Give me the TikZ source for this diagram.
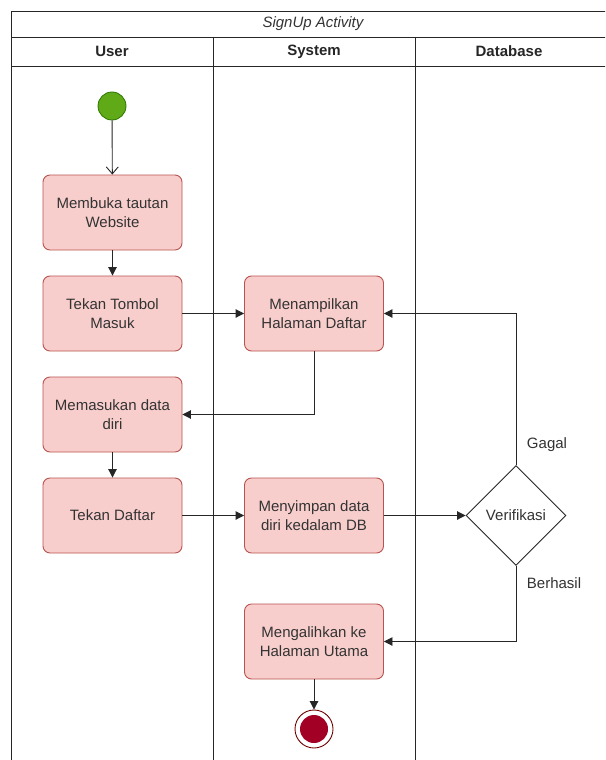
\documentclass[tikz,border=0pt]{standalone}
\usepackage{fontspec}
\setmainfont{Liberation Sans}
\usetikzlibrary{shapes.geometric,arrows.meta}
\definecolor{actfill}{HTML}{F8CECC}
\definecolor{actdraw}{HTML}{B85450}
\definecolor{txt}{HTML}{333333}
\definecolor{startfill}{HTML}{60A917}
\definecolor{startdraw}{HTML}{2D7600}
\definecolor{endfill}{HTML}{A20025}
\definecolor{enddraw}{HTML}{6F0000}
\tikzset{
  basefont/.style={font=\fontsize{15}{19}\selectfont},
  act/.style={rectangle, rounded corners=7pt, draw=actdraw, fill=actfill, line width=0.9pt,
    minimum width=139pt, minimum height=75pt, align=center, text=txt, basefont},
  decision/.style={diamond, draw=black!85, line width=0.9pt, fill=white,
    minimum width=100pt, minimum height=100pt, inner sep=0pt, text=txt, basefont},
  flow/.style={draw=black!85, line width=0.9pt, -{Triangle[length=8.5pt,width=8.5pt]}},
  lane/.style={draw=black!85, line width=0.9pt},
  lbl/.style={text=txt, basefont},
  head/.style={text=black!85, font=\fontsize{15}{19}\selectfont\bfseries},
}
\begin{document}
\begin{tikzpicture}[x=1pt,y=-1pt]
\useasboundingbox (0,0) rectangle (605,760);
\fill[white] (0,0) rectangle (605,760);
\begin{scope}
\clip (0,0) rectangle (605,760);
% swimlane frame, open on the right
\draw[lane] (11.5,765) -- (11.5,11) -- (610,11);
\draw[lane] (11.5,37) -- (610,37);
\draw[lane] (11.5,66) -- (610,66);
\draw[lane] (213,37) -- (213,765);
\draw[lane] (415,37) -- (415,765);
\end{scope}
\node[lbl, font=\fontsize{15}{19}\selectfont\itshape] (title) at (313,24) {SignUp Activity};
\node[head] (hUser) at (112,51.5) {User};
\node[head] (hSys) at (314,51.5) {System};
\node[head] (hDb) at (509,51.5) {Database};

% activities
\node[circle, fill=startfill, draw=startdraw, line width=0.8pt, minimum size=28pt, inner sep=0pt] (start) at (112,106) {};
\node[act] (buka) at (112.5,212.5) {Membuka tautan\\Website};
\node[act] (tombol) at (112.5,313.5) {Tekan Tombol\\Masuk};
\node[act] (isi) at (112.5,414.5) {Memasukan data\\diri};
\node[act] (daftar) at (112.5,515.5) {Tekan Daftar};
\node[act] (tampil) at (314,313.5) {Menampilkan\\Halaman Daftar};
\node[act] (simpan) at (314,515.5) {Menyimpan data\\diri kedalam DB};
\node[act] (alih) at (314,641.5) {Mengalihkan ke\\Halaman Utama};
\node[decision] (verif) at (516,515.5) {Verifikasi};
\node[circle, draw=enddraw, fill=white, line width=0.9pt, minimum size=38pt, inner sep=0pt] (stop) at (314,729) {};
\node[circle, fill=endfill, minimum size=28pt, inner sep=0pt] (stopin) at (stop) {};

% connectors
\draw[draw=black!85, line width=0.9pt, -{Straight Barb[length=7pt,width=12pt]}] (start) -- (buka);
\draw[flow] (buka) -- (tombol);
\draw[flow] (tombol) -- (tampil);
\draw[flow] (tampil.south) |- (isi.east);
\draw[flow] (isi) -- (daftar);
\draw[flow] (daftar) -- (simpan);
\draw[flow] (simpan) -- (verif);
\draw[flow] (verif.north) |- (tampil.east);
\draw[flow] (verif.south) |- (alih.east);
\draw[flow] (alih) -- (stop);

% guard labels
\node[lbl] (gagal) at (547,445) {Gagal};
\node[lbl] (berhasil) at (554,583) {Berhasil};
\end{tikzpicture}
\end{document}
